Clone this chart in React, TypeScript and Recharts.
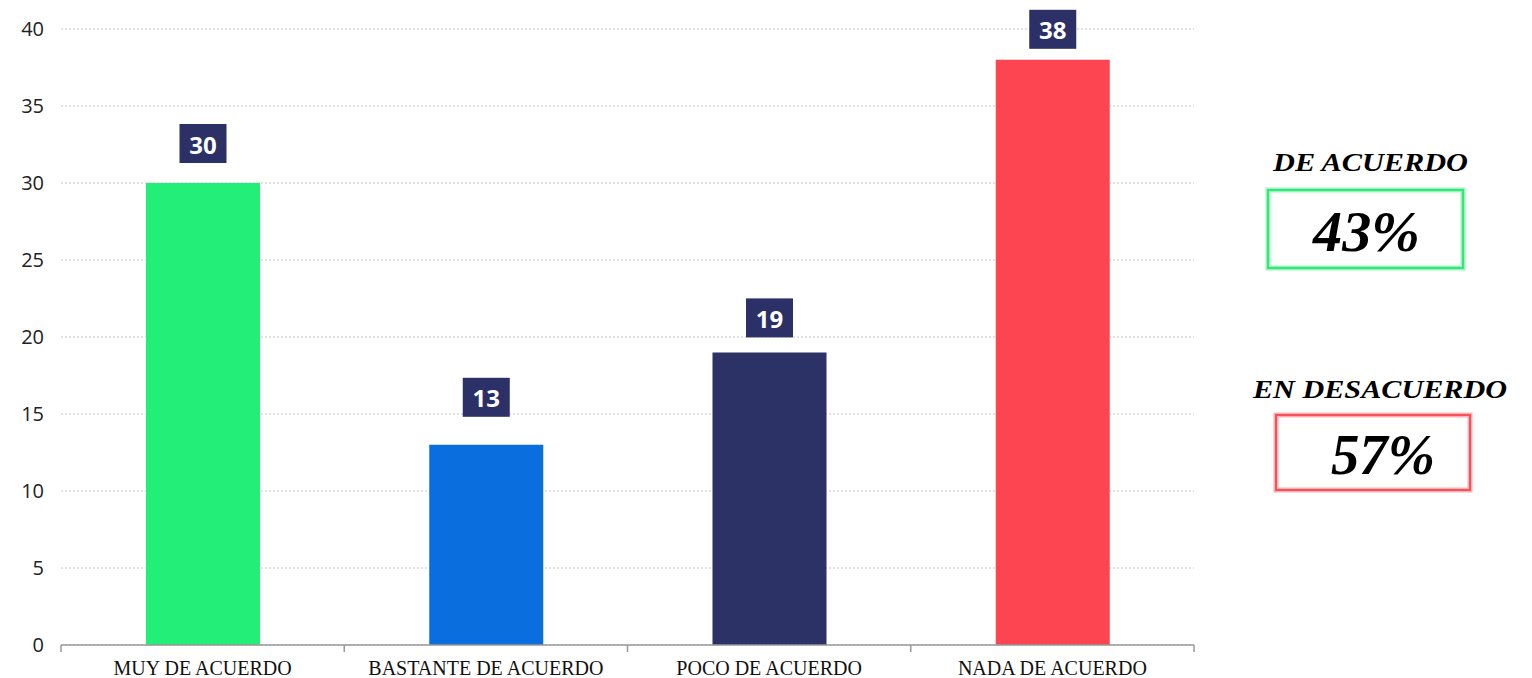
import React from 'react';
import { BarChart, Bar, XAxis, YAxis, CartesianGrid, Cell, LabelList } from 'recharts';

const categories = ['MUY DE ACUERDO', 'BASTANTE DE ACUERDO', 'POCO DE ACUERDO', 'NADA DE ACUERDO'];
const values = [30, 13, 19, 38];
const yTicks = [0, 5, 10, 15, 20, 25, 30, 35, 40];
const summaryTitles = ['DE ACUERDO', 'EN DESACUERDO'];
const summaryValues = ['43%', '57%'];

const barColors = ['#23EE78', '#0A6EDE', '#2C3166', '#FC4550'];
// lift of each value box above its bar (hand placed in the original)
const labelLift = [20, 28, 15, 11];

const W = 1532;
const H = 678;
const margin = { top: 29, right: 338, left: 11, bottom: 3 };
const Y_AXIS_W = 50;
const X_AXIS_H = 30;
const AXIS_Y = H - margin.bottom - X_AXIS_H;
const PLOT_W = W - margin.left - margin.right - Y_AXIS_W;
const BAND = PLOT_W / categories.length;

const data = categories.map((name, i) => ({ name, value: values[i] }));

const XTick = (props: any) => {
  const { x, index, payload } = props;
  const left = x - BAND / 2;
  return (
    <g>
      <line x1={left} x2={left} y1={AXIS_Y} y2={AXIS_Y + 7} stroke="#999" strokeWidth={1.5} />
      {index === categories.length - 1 && (
        <line x1={x + BAND / 2} x2={x + BAND / 2} y1={AXIS_Y} y2={AXIS_Y + 7} stroke="#999" strokeWidth={1.5} />
      )}
      <text
        x={x}
        y={AXIS_Y + 30}
        textAnchor="middle"
        fill="#111"
        fontSize={20}
        fontFamily="'Liberation Serif', serif"
      >
        {payload.value}
      </text>
    </g>
  );
};

const ValueBox = (props: any) => {
  const { x, y, width, value, index } = props;
  const cx = x + width / 2;
  const bottom = y - labelLift[index];
  return (
    <g>
      <rect x={cx - 23.5} y={bottom - 39} width={47} height={39} fill="#2B3066" />
      <text
        x={cx}
        y={bottom - 19}
        textAnchor="middle"
        dominantBaseline="central"
        fill="#fff"
        fontSize={24}
        fontWeight="bold"
        fontFamily="'Open Sans', sans-serif"
      >
        {value}
      </text>
    </g>
  );
};

const serifBI = "'Liberation Serif', serif";

const SummaryPanel = () => (
  <svg width={W} height={H} style={{ position: 'absolute', left: 0, top: 0, pointerEvents: 'none' }}>
    <text x={1273} y={171} fontFamily={serifBI} fontWeight="bold" fontStyle="italic" fontSize={25}
      textLength={195} lengthAdjust="spacingAndGlyphs" fill="#000">
      {summaryTitles[0]}
    </text>
    <rect x={1268} y={190} width={195} height={78} fill="none" stroke="#9BF3BC" strokeWidth={5} />
    <rect x={1268} y={190} width={195} height={78} fill="none" stroke="#33E77B" strokeWidth={2} />
    <text x={1313} y={251} fontFamily={serifBI} fontWeight="bold" fontStyle="italic" fontSize={58}
      textLength={107} lengthAdjust="spacingAndGlyphs" fill="#000">
      {summaryValues[0]}
    </text>

    <text x={1253} y={398} fontFamily={serifBI} fontWeight="bold" fontStyle="italic" fontSize={25}
      textLength={254} lengthAdjust="spacingAndGlyphs" fill="#000">
      {summaryTitles[1]}
    </text>
    <rect x={1276} y={415} width={194} height={75} fill="none" stroke="#FBB0B4" strokeWidth={5} />
    <rect x={1276} y={415} width={194} height={75} fill="none" stroke="#F4535D" strokeWidth={2} />
    <text x={1331} y={474} fontFamily={serifBI} fontWeight="bold" fontStyle="italic" fontSize={58}
      textLength={104} lengthAdjust="spacingAndGlyphs" fill="#000">
      {summaryValues[1]}
    </text>
  </svg>
);

export default function App() {
  return (
    <div style={{ position: 'absolute', left: 0, top: 0, width: W, height: H, background: '#fff' }}>
      <BarChart width={W} height={H} data={data} margin={margin}>
        <CartesianGrid vertical={false} strokeDasharray="2 2" stroke="#c4c4c4" />
        <XAxis
          dataKey="name"
          height={X_AXIS_H}
          axisLine={{ stroke: '#999', strokeWidth: 1.5 }}
          tickLine={false}
          tick={<XTick />}
          interval={0}
        />
        <YAxis
          width={Y_AXIS_W}
          domain={[0, 40]}
          ticks={yTicks}
          axisLine={false}
          tickLine={false}
          tickMargin={11}
          tick={{ fill: '#222', fontSize: 20, fontFamily: "'Open Sans', sans-serif" }}
        />
        <Bar dataKey="value" barSize={114} isAnimationActive={false}>
          {data.map((d, i) => (
            <Cell key={d.name} fill={barColors[i]} />
          ))}
          <LabelList dataKey="value" content={<ValueBox />} />
        </Bar>
      </BarChart>
      <SummaryPanel />
    </div>
  );
}
